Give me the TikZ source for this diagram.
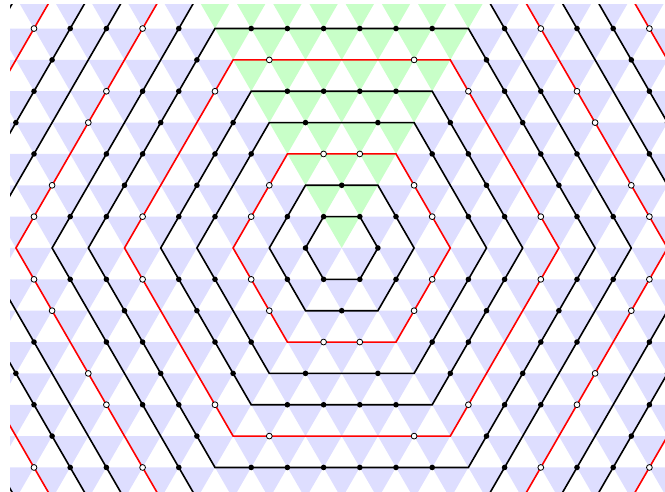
\documentclass[tikz,border=0pt]{standalone}
\begin{document}
\begin{tikzpicture}[x=1pt,y=-1pt]
\definecolor{bfill}{RGB}{222,222,255}
\definecolor{gfill}{RGB}{200,255,200}
\tikzset{
  ring/.style={line width=1.6pt,line join=miter},
  blackring/.style={ring,draw=black},
  redring/.style={ring,draw=red},
  fdot/.style={fill=black,radius=2.8},
  odot/.style={fill=white,draw=black,line width=0.8pt,radius=2.9}
}
\def\s{36.2}\def\h{31.35}\def\cx{341.7}\def\cy{248}
\useasboundingbox (0,0) rectangle (665,492);
\begin{scope}
\clip (10,5) rectangle (673,491);
% down triangles
\foreach \b in {-7,...,8}{
  \foreach \a in {-16,...,14}{
    \def\col{bfill}
    \ifnum\b>0 \ifnum\a<0 \ifnum\numexpr\a+\b\relax>-1 \def\col{gfill}\fi\fi\fi
    \fill[\col] ({\cx+(\a+\b/2)*\s},{\cy-\b*\h}) -- ++(\s,0) -- ++({-\s/2},\h) -- cycle;
  }
}
% hexagonal rings
\foreach \n in {1,...,16}{
  \pgfmathsetmacro\r{\n*\s}
  \pgfmathtruncatemacro\m{mod(\n,3)}
  \ifnum\m=0 \def\rs{redring}\else\def\rs{blackring}\fi
  \draw[\rs,shift={(\cx,\cy)}] (0:\r) -- (60:\r) -- (120:\r) -- (180:\r) -- (240:\r) -- (300:\r) -- cycle;
}
% primitive lattice points
\foreach \n in {1,...,16}{
  \pgfmathtruncatemacro\m{mod(\n,3)}
  \ifnum\m=0 \def\ds{odot}\else\def\ds{fdot}\fi
  \foreach \i in {0,...,5}{
    \foreach \k in {1,...,\n}{
      \pgfmathtruncatemacro\gg{gcd(\n,\k)}
      \ifnum\gg=1
        \pgfmathsetmacro\px{\cx+\s*((\n-\k)*cos(60*\i)+\k*cos(60*\i+60))}
        \pgfmathsetmacro\py{\cy-\s*((\n-\k)*sin(60*\i)+\k*sin(60*\i+60))}
        \path[\ds] (\px,\py) circle;
      \fi
    }
  }
}
\end{scope}
\end{tikzpicture}
\end{document}
